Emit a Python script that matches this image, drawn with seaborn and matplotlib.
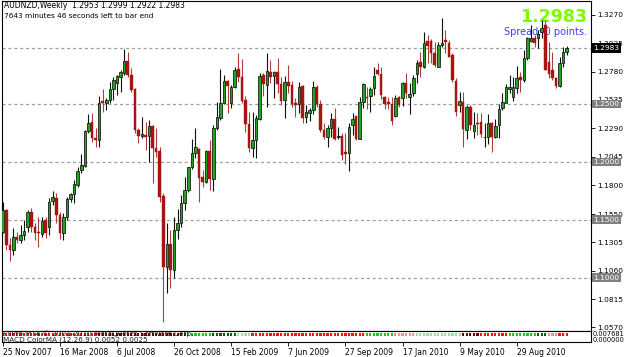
import numpy as np
import pandas as pd
import matplotlib
matplotlib.use("Agg")
import matplotlib.pyplot as plt
import matplotlib.transforms as mtransforms
import seaborn as sns

# ---------------- data (AUDNZD weekly) ----------------
start_date = "2007-11-25"

opens = [
    1.1397, 1.1584, 1.1282, 1.1238, 1.1354, 1.1325, 1.1368, 1.1440, 1.1570, 1.1434,
    1.1397, 1.1376, 1.1498, 1.1434, 1.1665, 1.1685, 1.1541, 1.1388, 1.1521, 1.1676,
    1.1725, 1.1800, 1.1930, 1.1964, 1.2267, 1.2341, 1.2209, 1.2189, 1.2529, 1.2511,
    1.2534, 1.2627, 1.2678, 1.2736, 1.2771, 1.2874, 1.2750, 1.2627, 1.2275, 1.2223,
    1.2232, 1.2223, 1.2310, 1.2117, 1.2097, 1.1705, 1.1094, 1.1290, 1.1066, 1.1411,
    1.1469, 1.1642, 1.1757, 1.1953, 1.2079, 1.2108, 1.1872, 1.1829, 1.2097, 1.1849,
    1.2290, 1.2376, 1.2511, 1.2701, 1.2506, 1.2650, 1.2799, 1.2736, 1.2534, 1.2327,
    1.2117, 1.2189, 1.2367, 1.2750, 1.2664, 1.2779, 1.2745, 1.2779, 1.2673, 1.2534,
    1.2687, 1.2664, 1.2506, 1.2500, 1.2655, 1.2385, 1.2425, 1.2448, 1.2650, 1.2500,
    1.2275, 1.2218, 1.2290, 1.2367, 1.2212, 1.2223, 1.2088, 1.2079, 1.2318, 1.2396,
    1.2195, 1.2520, 1.2563, 1.2569, 1.2635, 1.2794, 1.2759, 1.2557, 1.2520, 1.2500,
    1.2396, 1.2557, 1.2549, 1.2678, 1.2563, 1.2592, 1.2759, 1.2860, 1.2817, 1.3047,
    1.3047, 1.2943, 1.2822, 1.3010, 1.3053, 1.3024, 1.2923, 1.2701, 1.2491, 1.2520,
    1.2275, 1.2471, 1.2269, 1.2333, 1.2347, 1.2212, 1.2218, 1.2333, 1.2212, 1.2318,
    1.2462, 1.2511, 1.2627, 1.2563, 1.2635, 1.2736, 1.2707, 1.2894, 1.3047, 1.3067,
    1.3067, 1.3125, 1.3182, 1.2866, 1.2794, 1.2722, 1.2655, 1.2857, 1.2953,
]
highs = [
    1.1656, 1.1590, 1.1339, 1.1426, 1.1397, 1.1454, 1.1498, 1.1584, 1.1598, 1.1469,
    1.1526, 1.1526, 1.1526, 1.1685, 1.1748, 1.1728, 1.1570, 1.1555, 1.1699, 1.1734,
    1.1843, 1.1953, 1.2068, 1.2275, 1.2413, 1.2419, 1.2290, 1.2569, 1.2627, 1.2549,
    1.2693, 1.2736, 1.2750, 1.2794, 1.2972, 1.2952, 1.2808, 1.2635, 1.2290, 1.2390,
    1.2347, 1.2362, 1.2318, 1.2290, 1.2131, 1.1728, 1.1469, 1.1411, 1.1526, 1.1590,
    1.1714, 1.1872, 1.1958, 1.2195, 1.2290, 1.2117, 1.1930, 1.2102, 1.2189, 1.2318,
    1.2520, 1.2799, 1.2750, 1.2707, 1.2664, 1.2822, 1.2938, 1.2886, 1.2569, 1.2434,
    1.2434, 1.2405, 1.2771, 1.2771, 1.2943, 1.2880, 1.2785, 1.2894, 1.2736, 1.2742,
    1.2837, 1.2701, 1.2549, 1.2693, 1.2664, 1.2491, 1.2468, 1.2701, 1.2664, 1.2534,
    1.2333, 1.2318, 1.2419, 1.2462, 1.2304, 1.2246, 1.2246, 1.2339, 1.2419, 1.2396,
    1.2557, 1.2678, 1.2650, 1.2644, 1.2822, 1.2851, 1.2822, 1.2569, 1.2557, 1.2557,
    1.2578, 1.2569, 1.2693, 1.2765, 1.2684, 1.2750, 1.2880, 1.2952, 1.3125, 1.3096,
    1.3059, 1.3038, 1.3038, 1.3240, 1.3139, 1.3053, 1.2938, 1.2722, 1.2606, 1.2606,
    1.2491, 1.2491, 1.2434, 1.2419, 1.2419, 1.2333, 1.2413, 1.2347, 1.2367, 1.2500,
    1.2592, 1.2673, 1.2750, 1.2736, 1.2828, 1.2779, 1.2966, 1.3082, 1.3182, 1.3096,
    1.3139, 1.3226, 1.3226, 1.3038, 1.2952, 1.2736, 1.2909, 1.2990, 1.2999,
]
lows = [
    1.1382, 1.1238, 1.1146, 1.1195, 1.1296, 1.1296, 1.1325, 1.1397, 1.1397, 1.1325,
    1.1267, 1.1354, 1.1339, 1.1368, 1.1627, 1.1469, 1.1331, 1.1325, 1.1498, 1.1656,
    1.1647, 1.1786, 1.1901, 1.1958, 1.2252, 1.2174, 1.2131, 1.2131, 1.2434, 1.2448,
    1.2506, 1.2534, 1.2578, 1.2606, 1.2750, 1.2736, 1.2606, 1.2246, 1.2160, 1.2203,
    1.2102, 1.2002, 1.1814, 1.2045, 1.1656, 1.0619, 1.0864, 1.0907, 1.0994, 1.1331,
    1.1440, 1.1584, 1.1742, 1.1935, 1.2030, 1.1656, 1.1786, 1.1814, 1.1757, 1.1751,
    1.2275, 1.2362, 1.2500, 1.2419, 1.2462, 1.2635, 1.2693, 1.2506, 1.2261, 1.2088,
    1.2045, 1.2030, 1.2362, 1.2569, 1.2471, 1.2678, 1.2549, 1.2592, 1.2491, 1.2376,
    1.2592, 1.2477, 1.2385, 1.2419, 1.2339, 1.2339, 1.2356, 1.2413, 1.2477, 1.2261,
    1.2195, 1.2125, 1.2212, 1.2189, 1.2195, 1.2016, 1.1981, 1.1921, 1.2232, 1.2189,
    1.2195, 1.2462, 1.2454, 1.2434, 1.2578, 1.2750, 1.2540, 1.2454, 1.2454, 1.2318,
    1.2390, 1.2477, 1.2483, 1.2549, 1.2413, 1.2569, 1.2678, 1.2736, 1.2808, 1.2851,
    1.2851, 1.2817, 1.2817, 1.2995, 1.2938, 1.2909, 1.2693, 1.2396, 1.2434, 1.2125,
    1.2195, 1.2275, 1.2203, 1.2232, 1.2218, 1.2131, 1.2154, 1.2088, 1.2203, 1.2203,
    1.2448, 1.2506, 1.2592, 1.2529, 1.2598, 1.2606, 1.2693, 1.2880, 1.3038, 1.2995,
    1.2981, 1.3067, 1.2790, 1.2722, 1.2707, 1.2635, 1.2644, 1.2822, 1.2922,
]
closes = [
    1.1584, 1.1282, 1.1238, 1.1354, 1.1325, 1.1368, 1.1405, 1.1570, 1.1434, 1.1388,
    1.1382, 1.1492, 1.1388, 1.1650, 1.1693, 1.1541, 1.1388, 1.1521, 1.1676, 1.1725,
    1.1809, 1.1924, 1.1970, 1.2267, 1.2339, 1.2209, 1.2189, 1.2506, 1.2511, 1.2534,
    1.2627, 1.2707, 1.2742, 1.2779, 1.2874, 1.2750, 1.2621, 1.2275, 1.2223, 1.2241,
    1.2218, 1.2310, 1.2117, 1.2088, 1.1699, 1.1094, 1.1290, 1.1066, 1.1411, 1.1469,
    1.1642, 1.1757, 1.1953, 1.2079, 1.2131, 1.1858, 1.1829, 1.2097, 1.1849, 1.2290,
    1.2385, 1.2511, 1.2701, 1.2655, 1.2650, 1.2794, 1.2736, 1.2529, 1.2327, 1.2117,
    1.2189, 1.2376, 1.2742, 1.2673, 1.2785, 1.2736, 1.2779, 1.2673, 1.2529, 1.2687,
    1.2655, 1.2500, 1.2491, 1.2650, 1.2376, 1.2434, 1.2448, 1.2650, 1.2500, 1.2275,
    1.2218, 1.2290, 1.2367, 1.2195, 1.2223, 1.2059, 1.2068, 1.2298, 1.2367, 1.2195,
    1.2520, 1.2673, 1.2549, 1.2627, 1.2742, 1.2759, 1.2578, 1.2500, 1.2500, 1.2356,
    1.2549, 1.2491, 1.2678, 1.2598, 1.2586, 1.2722, 1.2851, 1.2817, 1.3024, 1.3001,
    1.2938, 1.2837, 1.3010, 1.3024, 1.3038, 1.2909, 1.2707, 1.2434, 1.2529, 1.2281,
    1.2477, 1.2318, 1.2318, 1.2327, 1.2241, 1.2218, 1.2339, 1.2218, 1.2310, 1.2457,
    1.2520, 1.2650, 1.2650, 1.2650, 1.2722, 1.2707, 1.2894, 1.3067, 1.3067, 1.3030,
    1.3105, 1.3154, 1.2794, 1.2759, 1.2722, 1.2655, 1.2857, 1.2952, 1.2983,
]

price_ticks = [1.3270, 1.3025, 1.2780, 1.2535, 1.2290, 1.2045, 1.1800,
               1.1550, 1.1305, 1.1060, 1.0815, 1.0570]
level_lines = [1.2500, 1.2000, 1.1500, 1.1000]
bid_price = 1.2983
date_tick_step = 16

# MACD ColorMA colour runs in sub window (state, number of bars)
macd_runs = [("R", 27), ("r", 25), ("G", 7), ("g", 7), ("l", 4), ("R", 32),
             ("G", 8), ("p", 6), ("l", 13), ("r", 5), ("R", 8), ("G", 8),
             ("g", 3), ("p", 3), ("R", 3)]

title_line1 = "AUDNZD,Weekly  1.2953 1.2999 1.2922 1.2983"
title_line2 = "7643 minutes 46 seconds left to bar end"
sub_line1 = "FxPro MT4 \u00a9 2001-2010 MetaQuotes Software Corp."
sub_line2 = "MACD ColorMA (12,26,9) 0.0052 0.0025"

# ---------------- figure ----------------
sns.set_style("white")
plt.rcParams["font.family"] = ["DejaVu Sans"]

W, H = 625, 357
fig = plt.figure(figsize=(W / 100, H / 100), dpi=100)
fig.patch.set_facecolor("white")

def fy(y):
    return 1 - y / H

ax = fig.add_axes([2 / W, fy(330.7), 589 / W, (330.7 - 1) / H])
ax2 = fig.add_axes([2 / W, fy(342), 589 / W, 11 / H])

df = pd.DataFrame({"open": opens, "high": highs, "low": lows, "close": closes})
df["date"] = pd.date_range(start_date, periods=len(df), freq="W-SUN")
df["idx"] = np.arange(len(df))
up = df["close"] >= df["open"]

# wicks
ax.vlines(df.loc[up, "idx"], df.loc[up, "low"], df.loc[up, "high"],
          color="#101010", lw=0.8, zorder=3)
ax.vlines(df.loc[~up, "idx"], df.loc[~up, "low"], df.loc[~up, "high"],
          color="#b03c3c", lw=0.8, zorder=3)
# bodies
body_lo = np.minimum(df["open"], df["close"])
body_h = np.maximum((df["close"] - df["open"]).abs(), 0.0005)
ax.bar(df.loc[up, "idx"], body_h[up], bottom=body_lo[up], width=0.72,
       color="#1fa51f", edgecolor="black", linewidth=0.5, zorder=4)
ax.bar(df.loc[~up, "idx"], body_h[~up], bottom=body_lo[~up], width=0.72,
       color="#a81414", edgecolor="#a81414", linewidth=0.3, zorder=4)

# dashed levels
for lv in level_lines + [bid_price]:
    ax.axhline(lv, color="#a0a0a0", lw=0.9, ls=(0, (2.5, 2.2)), zorder=1)

ax.set_xlim(-0.2, 164.8)
ax.set_ylim(1.0542, 1.3390)
ax.set_xticks([])
ax.yaxis.tick_right()
ax.set_yticks(price_ticks)
ax.set_yticklabels([f"{v:.4f}" for v in price_ticks])
ax.tick_params(axis="y", direction="out", length=3, width=0.6, pad=1.5,
               labelsize=5.3, colors="black", right=True, left=False)
for s in ax.spines.values():
    s.set_color("black")
    s.set_linewidth(0.8)

trans = mtransforms.blended_transform_factory(ax.transAxes, ax.transData)
for lv in level_lines:
    ax.text(1.004, lv, f"{lv:.4f}", transform=trans, ha="left", va="center",
            fontsize=5.3, color="white", zorder=6, clip_on=False,
            bbox=dict(boxstyle="square,pad=0.18", fc="#808080", ec="none"))
ax.text(1.004, bid_price, f"{bid_price:.4f}", transform=trans, ha="left",
        va="center", fontsize=5.3, color="white", zorder=6, clip_on=False,
        bbox=dict(boxstyle="square,pad=0.25", fc="black", ec="none"))

# texts on main chart
ax.text(4 / W, fy(5.5), title_line1, transform=fig.transFigure, fontsize=5.5,
        ha="left", va="center", color="black", zorder=2)
ax.text(4 / W, fy(15.5), title_line2, transform=fig.transFigure, fontsize=5.3,
        ha="left", va="center", color="black", zorder=2)
ax.text(587 / W, fy(17), f"{bid_price:.4f}", transform=fig.transFigure,
        fontsize=12.5, fontweight="bold", ha="right", va="center",
        color="#7cfc00", zorder=2)
ax.text(587 / W, fy(32), "Spread: 0 points.", transform=fig.transFigure,
        fontsize=7, ha="right", va="center", color="#3c3cff", zorder=2)

# ---------------- sub window (MACD ColorMA) ----------------
states = []
for st, n in macd_runs:
    states += [st] * n
sub = pd.DataFrame({"idx": np.arange(len(states)), "state": states,
                    "y": [0.35] * len(states)})
pal = {"R": "#ff1010", "r": "#7a0000", "G": "#10d010", "g": "#006000",
       "l": "#a0e0a0", "p": "#f09090"}
sns.scatterplot(data=sub, x="idx", y="y", hue="state", palette=pal,
                marker="s", s=2.5, linewidth=0, legend=False, ax=ax2, zorder=2)
ax2.set_xlim(-0.2, 164.8)
ax2.set_ylim(-1, 1)
ax2.set_yticks([])
ax2.set_ylabel("")
ax2.set_xlabel("")
for s in ax2.spines.values():
    s.set_color("black")
    s.set_linewidth(0.8)

tick_pos = list(range(0, len(df), date_tick_step))
tick_lab = [f"{d.day} {d.strftime('%b %Y')}" for d in df["date"].iloc[tick_pos]]
ax2.set_xticks(tick_pos)
ax2.set_xticklabels(tick_lab, ha="left")
ax2.tick_params(axis="x", direction="out", length=3, width=0.6, pad=1.5,
                labelsize=5.5, colors="black", bottom=True)

ax2.text(3 / W, fy(334), sub_line1, transform=fig.transFigure, fontsize=5.2,
         ha="left", va="center", color="#202020", zorder=3)
ax2.text(3 / W, fy(339.5), sub_line2, transform=fig.transFigure, fontsize=5.2,
         ha="left", va="center", color="#202020", zorder=3)
ax2.text(593 / W, fy(334), "0.007681", transform=fig.transFigure,
         fontsize=4.8, ha="left", va="center", color="black")
ax2.text(593 / W, fy(339.5), "0.000000", transform=fig.transFigure,
         fontsize=4.8, ha="left", va="center", color="black")

fig.savefig("out.png", dpi=100, facecolor="white")
